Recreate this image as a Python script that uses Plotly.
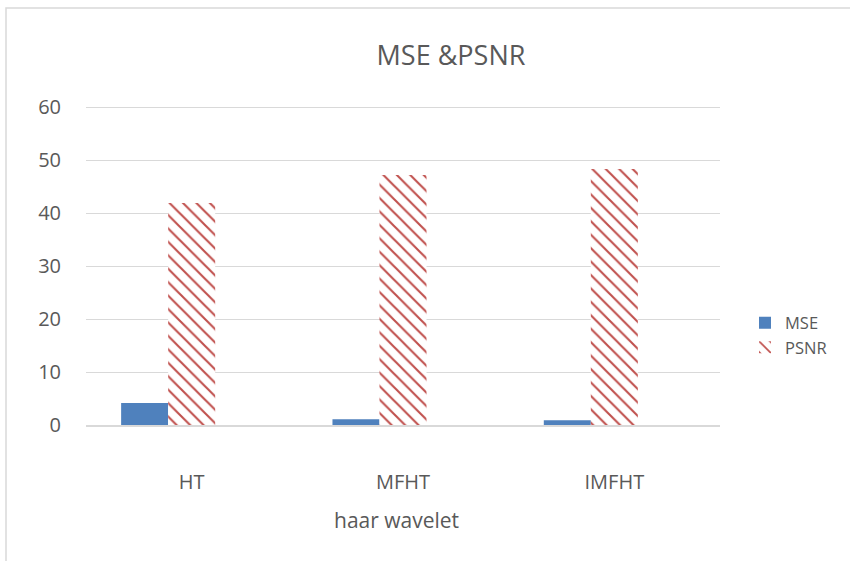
import plotly.graph_objects as go

categories = ["HT", "MFHT", "IMFHT"]
mse = [4.15, 1.1, 0.9]
psnr = [41.9, 47.2, 48.3]
y_ticks = [0, 10, 20, 30, 40, 50, 60]

gray = "#595959"
grid = "#d9d9d9"
font = "Open Sans"
bw = 0.2225

fig = go.Figure()
fig.add_bar(x=categories, y=mse, name="MSE", width=bw, offset=-1.5 * bw,
            marker=dict(color="#4F81BD", line=dict(width=0)))
fig.add_bar(x=categories, y=psnr, name="PSNR", width=bw, offset=-0.5 * bw,
            marker=dict(color="white", line=dict(width=0),
                        pattern=dict(shape="\\", fgcolor="#C0504D", bgcolor="white",
                                     size=9.5, solidity=0.22, fillmode="replace")))

L, R, T, B = 86, 130, 106, 136
W, H = 850, 561
pw, ph = W - L - R, H - T - B

fig.update_layout(
    width=W, height=H,
    margin=dict(l=L, r=R, t=T, b=B, pad=0),
    paper_bgcolor="white", plot_bgcolor="white",
    barmode="overlay",
    font=dict(family=font, color=gray, size=15),
    title=dict(text="MSE &PSNR", x=451 / W, xanchor="center", y=1 - 56 / H, yanchor="middle",
               font=dict(size=27, color=gray, family=font)),
    legend=dict(x=(745 - L) / pw, y=(425 - 335) / ph, xanchor="left", yanchor="middle",
                font=dict(size=16.5, color=gray), itemwidth=30),
    showlegend=True,
    shapes=[dict(type="rect", xref="paper", yref="paper",
                 x0=(6 - L) / pw, x1=(W + 10 - L) / pw,
                 y0=(425 - H - 10) / ph, y1=(425 - 8) / ph,
                 line=dict(color=grid, width=1.5), fillcolor="rgba(0,0,0,0)", layer="below")],
    annotations=[dict(text="haar wavelet", xref="paper", yref="paper",
                      x=(396 - L) / pw, y=(425 - 520) / ph, xanchor="center", yanchor="middle",
                      showarrow=False, font=dict(size=21, color=gray, family=font))],
)
fig.update_yaxes(range=[0, 60.2], tickvals=y_ticks, showgrid=True, gridcolor=grid, gridwidth=1,
                 zeroline=False, showline=False, ticks="", ticklabelstandoff=24,
                 tickfont=dict(size=20, color=gray))
fig.update_xaxes(showline=True, linecolor=grid, linewidth=1.5, ticks="", ticklabelstandoff=38,
                 tickfont=dict(size=20, color=gray))

fig.write_html("out.html", post_script="document.body.style.margin='0';",
               config={"displayModeBar": False})
